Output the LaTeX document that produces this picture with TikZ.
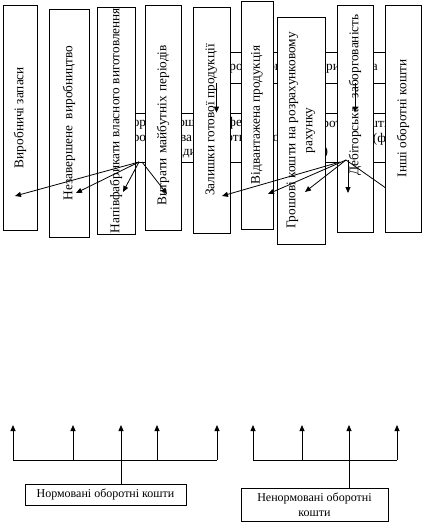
\documentclass[tikz,border=0pt]{standalone}
\usepackage{fontspec}
\setmainfont{Liberation Serif}
\usetikzlibrary{arrows.meta}

\begin{document}
\begin{tikzpicture}[
  x=1pt, y=-1pt, line width=0.8pt,
  vbox/.style={draw,fill=white,rotate=90,inner sep=0pt,align=center,font=\fontsize{13.3}{17}\selectfont},
  hbox/.style={draw,fill=white,inner sep=0pt,align=center,font=\fontsize{12}{15}\selectfont},
  hidbox/.style={draw,inner sep=0pt},
  hidtext/.style={anchor=west,inner sep=0pt,font=\fontsize{13.3}{16}\selectfont},
  arr/.style={-{Triangle[length=6pt,width=5pt]}}
]
  \useasboundingbox (0,0) rectangle (422,522);
  % hidden boxes behind the columns
  \node[hidbox,minimum width=205,minimum height=31] (topbox) at (310,67.5) {};
  \node[hidtext] (toptext) at (206,67) {Оборотні кошти підприємства};
  \node[hidbox,minimum width=160,minimum height=49] (midL) at (180,137.5) {};
  \node[hidtext] (midL1) at (116,123) {Оборотні кошти у сфері};
  \node[hidtext] (midL2) at (119,138) {виробництва (оборотні виробничі};
  \node[hidtext] (midL3) at (160,152) {фонди)};
  \node[hidbox,minimum width=125,minimum height=49] (midR) at (342,137.5) {};
  \node[hidtext] (midR1) at (299,124) {Оборотні кошти у сфері обігу};
  \node[hidtext] (midR2) at (340,139) {обігу (фонди};
  \node[hidtext] (midR3) at (294,152) {обігу)};
  % columns
  \node[vbox,minimum width=225,minimum height=34] (b1) at (20,117.5) {Виробничі запаси};
  \node[vbox,minimum width=228,minimum height=40] (b2) at (69,123) {Незавершене\ \ виробництво};
  \node[vbox,minimum width=227,minimum height=38] (b3) at (116,120.5) {Напівфабрикати власного виготовлення};
  \node[vbox,minimum width=225,minimum height=36,text width=175pt,align=left] (b4) at (163,117.5) {Витрати майбутніх періодів};
  \node[vbox,minimum width=226,minimum height=37] (b5) at (211.5,120) {Залишки готової продукції};
  \node[vbox,minimum width=228,minimum height=32] (b6) at (257,115) {Відвантажена продукція};
  \node[vbox,minimum width=227,minimum height=48] (b7) at (301,130.5) {Грошові кошти на розрахунковому\\рахунку};
  \node[vbox,minimum width=227,minimum height=36,text width=208pt,align=right] (b8) at (355,118.5) {Дебіторська\ \ заборгованість};
  \coordinate (fanL) at (139,162);
  \coordinate (fanR) at (346,160);
  \coordinate (t9) at (400,198);
  \draw[arr] (fanR) -- (t9);
  \node[vbox,minimum width=227,minimum height=36] (b9) at (403,118.5) {Інші оборотні кошти};
  % arrows from the hidden boxes
  \draw[arr] (topbox.south -| b5.center) ++(5,0) coordinate (a1) -- (a1 |- midL.north);
  \draw[arr] (topbox.south -| b8.west) -- (b8.west |- midR.north);
  \coordinate (t1) at (15,196);
  \coordinate (t2) at (76,193);
  \coordinate (t3) at (123,192);
  \coordinate (t4) at (167,194);
  \draw[arr] (fanL) -- (t1);
  \draw[arr] (fanL) -- (t2);
  \draw[arr] (fanL) -- (t3);
  \draw[arr] (fanL) ++(3,0) -- (t4);
  \coordinate (t5) at (222,196);
  \coordinate (t6) at (268,194);
  \coordinate (t7) at (305,192);
  \coordinate (t8) at (348,193);
  \draw[arr] (fanR) ++(-6,2) -- (t5);
  \draw[arr] (fanR) -- (t6);
  \draw[arr] (fanR) -- (t7);
  \draw[arr] (fanR) ++(2,0) -- (t8);
  % lower part
  \node[hbox,minimum width=161,minimum height=21] (norm) at (105.5,494.5) {Нормовані оборотні кошти};
  \node[hbox,minimum width=147,minimum height=33] (nnorm) at (314.5,504.5) {Ненормовані оборотні\\кошти};
  \coordinate (jL) at (121,460);
  \coordinate (jR) at (349,460);
  \draw (norm.north -| jL) -- (jL);
  \draw (nnorm.north -| jR) -- (jR);
  \coordinate (u1) at (13,425);
  \coordinate (u2) at (73,425);
  \coordinate (u3) at (121,425);
  \coordinate (u4) at (157,425);
  \coordinate (u5) at (217,425);
  \coordinate (u6) at (253,425);
  \coordinate (u7) at (302,425);
  \coordinate (u8) at (349,425);
  \coordinate (u9) at (397,425);
  \draw (u1 |- jL) -- (u5 |- jL);
  \draw (u6 |- jR) -- (u9 |- jR);
  \draw[arr] (u1 |- jL) -- (u1);
  \draw[arr] (u2 |- jL) -- (u2);
  \draw[arr] (u3 |- jL) -- (u3);
  \draw[arr] (u4 |- jL) -- (u4);
  \draw[arr] (u5 |- jL) -- (u5);
  \draw[arr] (u6 |- jR) -- (u6);
  \draw[arr] (u7 |- jR) -- (u7);
  \draw[arr] (u8 |- jR) -- (u8);
  \draw[arr] (u9 |- jR) -- (u9);
\end{tikzpicture}
\end{document}
